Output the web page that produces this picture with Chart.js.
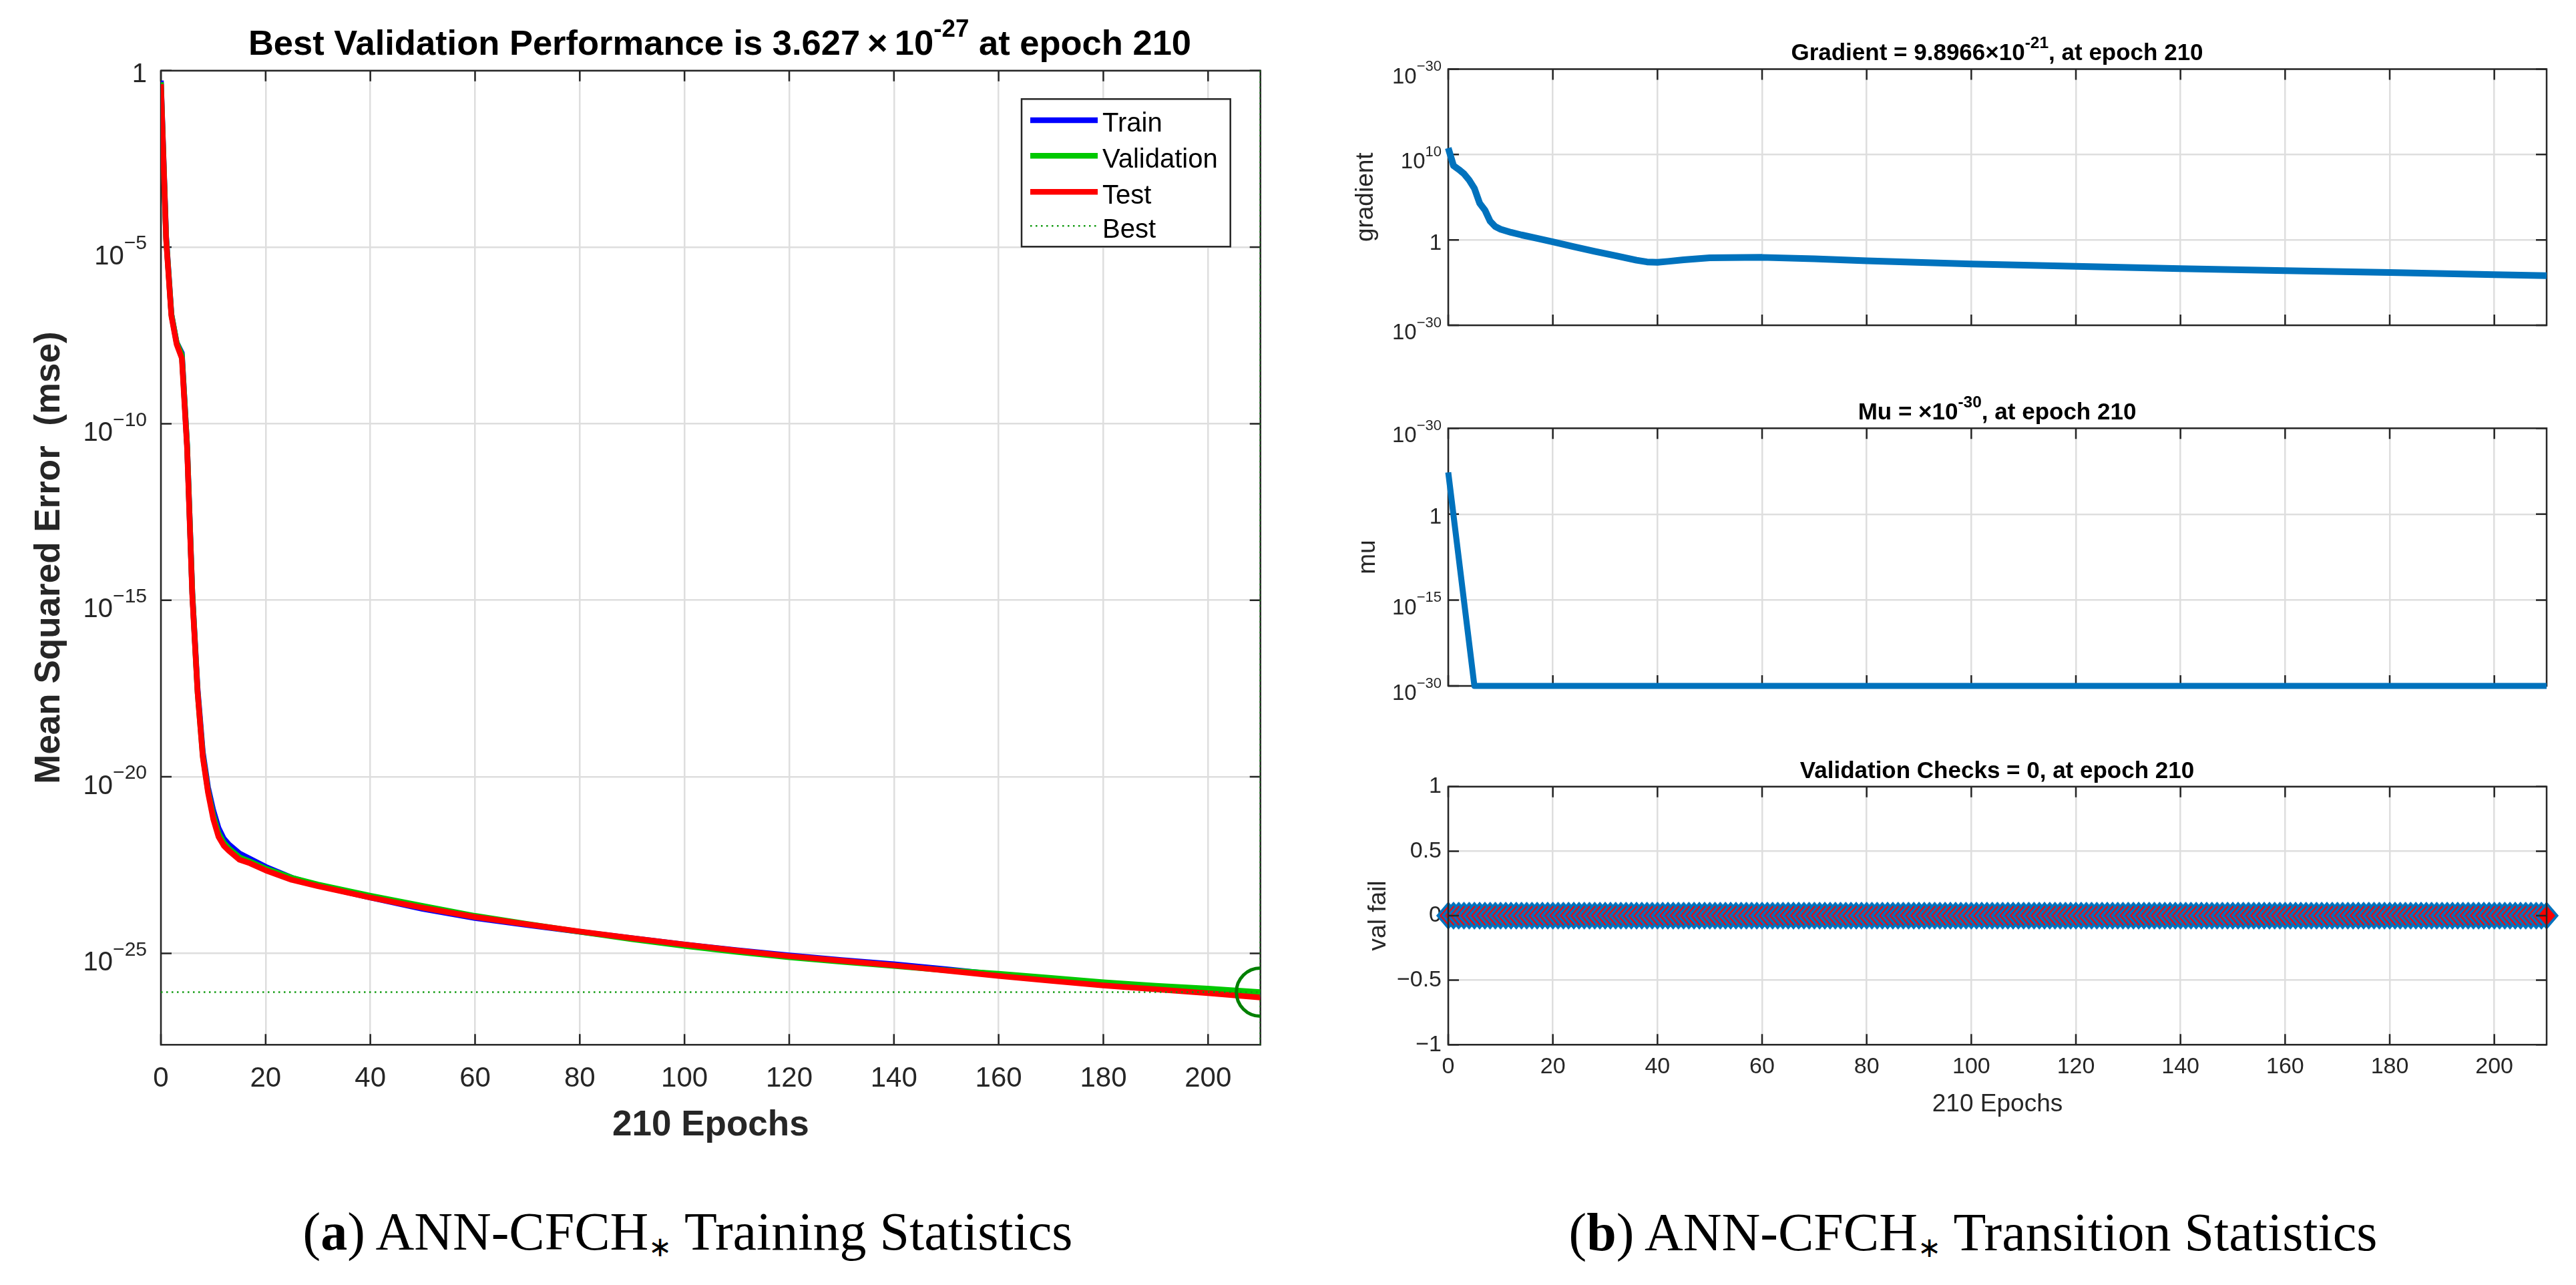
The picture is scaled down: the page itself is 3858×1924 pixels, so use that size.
<!DOCTYPE html>
<html>
<head>
<meta charset="utf-8">
<script src="https://cdn.jsdelivr.net/npm/chart.js@4.4.1/dist/chart.umd.min.js"></script>
<style>
html,body{margin:0;padding:0;background:#fff;width:3858px;height:1924px;overflow:hidden;}
.box{position:absolute;}
.ttl{position:absolute;white-space:nowrap;font-family:'Liberation Sans',Arial,sans-serif;font-weight:bold;color:#000;line-height:1;transform:translateX(-50%);}
.cap{position:absolute;white-space:nowrap;font-family:'Liberation Serif','Times New Roman',serif;font-size:80px;line-height:1;color:#000;transform:translateX(-50%);}
.sp{position:relative;top:-0.74em;font-size:70%;line-height:0;}
.sb{position:relative;top:0.25em;font-size:52%;line-height:0;}
</style>
</head>
<body>
<div class="box" style="left:0;top:0;width:1940px;height:1760px"><canvas id="cA"></canvas></div>
<div class="box" style="left:1960px;top:0;width:1898px;height:560px"><canvas id="cB"></canvas></div>
<div class="box" style="left:1960px;top:560px;width:1898px;height:520px"><canvas id="cC"></canvas></div>
<div class="box" style="left:1960px;top:1080px;width:1898px;height:640px"><canvas id="cD"></canvas></div>

<div class="ttl" style="left:1078px;top:38px;font-size:52.5px">Best Validation Performance is 3.627&#8201;×&#8201;10<span class="sp">-27</span> at epoch 210</div>
<div class="ttl" style="left:2991px;top:60px;font-size:35px">Gradient = 9.8966×10<span class="sp">-21</span>, at epoch 210</div>
<div class="ttl" style="left:2991px;top:598px;font-size:35px">Mu = ×10<span class="sp">-30</span>, at epoch 210</div>
<div class="ttl" style="left:2991px;top:1135px;font-size:35px">Validation Checks = 0, at epoch 210</div>
<div class="cap" style="left:1030px;top:1804px">(<b>a</b>) ANN-CFCH<span class="sb">∗</span> Training Statistics</div>
<div class="cap" style="left:2955px;top:1805px">(<b>b</b>) ANN-CFCH<span class="sb">∗</span> Transition Statistics</div>

<script>
// ---------------- data ----------------
const epochs   = [0,1,2,3,4,5,6,7,8,9,10,11,12,13,15,17,20,25,30,40,50,60,70,80,90,100,110,120,130,140,150,160,170,180,190,200,210];
const trainMse = [0.525,2.0e-5,1.26e-7,2.0e-8,1.0e-8,2.51e-11,1.58e-15,3.16e-18,5.01e-20,5.01e-21,1.12e-21,3.55e-22,1.78e-22,1.2e-22,6.76e-23,4.79e-23,2.82e-23,1.38e-23,8.32e-24,3.8e-24,1.82e-24,1.0e-24,6.31e-25,4.07e-25,2.69e-25,1.78e-25,1.23e-25,8.71e-26,6.46e-26,4.9e-26,3.55e-26,2.51e-26,1.78e-26,1.32e-26,1.0e-26,7.76e-27,6.03e-27];
const valMse   = [0.468,1.78e-5,1.26e-7,2.0e-8,8.91e-9,2.51e-11,1.58e-15,2.51e-18,3.98e-20,3.98e-21,7.94e-22,2.51e-22,1.35e-22,9.33e-23,5.25e-23,3.98e-23,2.51e-23,1.38e-23,8.91e-24,4.27e-24,2.19e-24,1.15e-24,6.76e-25,4.07e-25,2.51e-25,1.62e-25,1.1e-25,7.76e-26,5.75e-26,4.37e-26,3.31e-26,2.63e-26,2.0e-26,1.51e-26,1.2e-26,1.0e-26,7.94e-27];
const testMse  = [0.417,1.58e-5,1.12e-7,1.78e-8,7.08e-9,2.0e-11,1.26e-15,2.51e-18,3.55e-20,3.55e-21,6.31e-22,2.0e-22,1.12e-22,7.94e-23,4.47e-23,3.55e-23,2.24e-23,1.2e-23,7.94e-24,3.8e-24,1.95e-24,1.07e-24,6.61e-25,4.17e-25,2.69e-25,1.78e-25,1.2e-25,8.32e-26,6.17e-26,4.57e-26,3.24e-26,2.29e-26,1.66e-26,1.23e-26,9.55e-27,7.41e-27,5.62e-27];
const bestEpoch = 210;
const bestMse = 7.94e-27;
const mseRange = [2.57e-28, 1];
const mseTicks = [1, 1e-5, 1e-10, 1e-15, 1e-20, 1e-25];
const mseTickLabels = ['1', '10^−5', '10^−10', '10^−15', '10^−20', '10^−25'];
const legendLabels = ['Train', 'Validation', 'Test', 'Best'];

const gradEpochs = [0,1,2,3,4,5,6,7,8,9,10,12,14,17,20,24,28,32,36,38,40,42,45,50,60,70,80,100,120,140,160,180,200,210];
const gradValues = [5.75e10,5.01e8,1.78e8,5.62e7,1.0e7,1.07e6,2.0e4,3.16e3,158,35.5,17.8,7.59,3.8,1.51,0.575,0.158,0.0447,0.0141,4.17e-3,2.63e-3,2.4e-3,3.02e-3,4.68e-3,7.94e-3,8.91e-3,6.03e-3,3.55e-3,1.48e-3,7.94e-4,4.27e-4,2.51e-4,1.48e-4,8.51e-5,6.31e-5];
const gradRange = [1e-10, 1e20];
const gradTicks = [1e20, 1e10, 1, 1e-10];
const gradTickLabels = ['10^−30', '10^10', '1', '10^−30'];

const muEpochs = [0, 5, 210];
const muValues = [2e7, 1e-30, 1e-30];
const muRange = [1e-30, 1e15];
const muTicks = [1e15, 1, 1e-15, 1e-30];
const muTickLabels = ['10^−30', '1', '10^−15', '10^−30'];

const valFail = [
0,0,0,0,0,0,0,0,0,0,0,0,0,0,0,0,0,0,0,0,
0,0,0,0,0,0,0,0,0,0,0,0,0,0,0,0,0,0,0,0,
0,0,0,0,0,0,0,0,0,0,0,0,0,0,0,0,0,0,0,0,
0,0,0,0,0,0,0,0,0,0,0,0,0,0,0,0,0,0,0,0,
0,0,0,0,0,0,0,0,0,0,0,0,0,0,0,0,0,0,0,0,
0,0,0,0,0,0,0,0,0,0,0,0,0,0,0,0,0,0,0,0,
0,0,0,0,0,0,0,0,0,0,0,0,0,0,0,0,0,0,0,0,
0,0,0,0,0,0,0,0,0,0,0,0,0,0,0,0,0,0,0,0,
0,0,0,0,0,0,0,0,0,0,0,0,0,0,0,0,0,0,0,0,
0,0,0,0,0,0,0,0,0,0,0,0,0,0,0,0,0,0,0,0,
0,0,0,0,0,0,0,0,0,0,0];
const valTicks = [-1, -0.5, 0, 0.5, 1];
const valTickLabels = ['−1', '−0.5', '0', '0.5', '1'];
const epochMax = 210;
const epochStep = 20;

// ---------------- helpers ----------------
const FONT = "'Liberation Sans', Arial, sans-serif";
Chart.defaults.font.family = FONT;
Chart.defaults.color = '#262626';
const INK = '#262626';
const GRID = '#dedede';

const pts = (xs, ys) => xs.map((x, i) => ({x: x, y: ys[i]}));

function drawFrame(chart) {
  const ctx = chart.ctx, a = chart.chartArea, xs = chart.scales.x, ys = chart.scales.y;
  const L = 16;
  ctx.save();
  ctx.strokeStyle = INK; ctx.lineWidth = 2.5; ctx.setLineDash([]);
  ctx.beginPath();
  xs.ticks.forEach(t => {
    const p = xs.getPixelForValue(t.value);
    ctx.moveTo(p, a.bottom); ctx.lineTo(p, a.bottom - L);
    ctx.moveTo(p, a.top); ctx.lineTo(p, a.top + L);
  });
  ys.ticks.forEach(t => {
    const p = ys.getPixelForValue(t.value);
    ctx.moveTo(a.left, p); ctx.lineTo(a.left + L, p);
    ctx.moveTo(a.right, p); ctx.lineTo(a.right - L, p);
  });
  ctx.stroke();
  ctx.strokeRect(a.left, a.top, a.right - a.left, a.bottom - a.top);
  ctx.restore();
}

function drawLogLabels(chart, o) {
  const ctx = chart.ctx, a = chart.chartArea, ys = chart.scales.y;
  ctx.save();
  ctx.fillStyle = INK; ctx.textBaseline = 'alphabetic'; ctx.textAlign = 'left';
  o.values.forEach((v, i) => {
    const p = ys.getPixelForValue(v);
    const parts = o.labels[i].split('^');
    const right = a.left - o.gap;
    ctx.font = o.base + 'px ' + FONT;
    const bw = ctx.measureText(parts[0]).width;
    if (parts.length === 1) { ctx.fillText(parts[0], right - bw, p + 0.44 * o.base); return; }
    ctx.font = o.exp + 'px ' + FONT;
    const ew = ctx.measureText(parts[1]).width;
    const bl = p + 0.64 * o.base;
    ctx.fillText(parts[1], right - ew, bl - 0.56 * o.base);
    ctx.font = o.base + 'px ' + FONT;
    ctx.fillText(parts[0], right - ew - bw, bl);
  });
  ctx.restore();
}

function drawLegend(chart, o) {
  const ctx = chart.ctx;
  ctx.save();
  ctx.fillStyle = '#fff'; ctx.fillRect(o.x, o.y, o.w, o.h);
  ctx.strokeStyle = INK; ctx.lineWidth = 2.5; ctx.strokeRect(o.x, o.y, o.w, o.h);
  o.labels.forEach((lab, i) => {
    const ds = chart.data.datasets.find(d => d.label === lab);
    const cy = o.rows[i];
    ctx.beginPath();
    ctx.strokeStyle = ds.borderColor; ctx.lineWidth = ds.borderWidth;
    ctx.setLineDash(ds.borderDash || []);
    ctx.moveTo(o.lineX0, cy); ctx.lineTo(o.lineX1, cy); ctx.stroke();
    ctx.setLineDash([]);
    ctx.fillStyle = '#000'; ctx.font = o.font + 'px ' + FONT; ctx.textBaseline = 'alphabetic'; ctx.textAlign = 'left';
    ctx.fillText(lab, o.textX, cy + 0.358 * o.font + 3);
  });
  ctx.restore();
}

const framePlugin = {
  id: 'frame',
  beforeDatasetsDraw(chart, args, o) { if (!o.onTop) drawFrame(chart); },
  afterDatasetsDraw(chart, args, o) { if (o.onTop) drawFrame(chart); },
  afterDraw(chart, args, o) {
    if (o.logLabels) drawLogLabels(chart, o.logLabels);
    if (o.legend) drawLegend(chart, o.legend);
  }
};

function epochAxis(opts) {
  return Object.assign({
    type: 'linear', min: 0, max: epochMax,
    ticks: {stepSize: epochStep, includeBounds: false, display: false, maxRotation: 0, autoSkip: false},
    grid: {color: GRID, lineWidth: 2.5, drawTicks: false},
    border: {display: false}
  }, opts);
}

const base = {
  animation: false, responsive: true, maintainAspectRatio: false, events: [],
};

// ---------------- chart A: performance ----------------
new Chart(document.getElementById('cA'), {
  type: 'scatter',
  data: {
    datasets: [
      {label: 'Train', data: pts(epochs, trainMse), showLine: true, borderColor: '#0000ff', borderWidth: 8.5, pointRadius: 0, borderJoinStyle: 'round', order: 3},
      {label: 'Validation', data: pts(epochs, valMse), showLine: true, borderColor: '#00c800', borderWidth: 8.5, pointRadius: 0, borderJoinStyle: 'round', order: 2},
      {label: 'Test', data: pts(epochs, testMse), showLine: true, borderColor: '#ff0000', borderWidth: 8.5, pointRadius: 0, borderJoinStyle: 'round', order: 1},
      {label: 'Best', data: [{x: 0, y: bestMse}, {x: epochMax, y: bestMse}], showLine: true, borderColor: '#109a10', borderWidth: 2.5, borderDash: [2.5, 5.5], pointRadius: 0, order: 0},
      {label: 'BestEpoch', data: [{x: bestEpoch, y: mseRange[1]}, {x: bestEpoch, y: mseRange[0]}], showLine: true, borderColor: '#109a10', borderWidth: 2.5, borderDash: [2.5, 5.5], pointRadius: 0, order: 0},
      {label: 'BestPoint', data: [{x: bestEpoch, y: bestMse}], showLine: false, pointRadius: 36, pointBorderWidth: 5, pointBorderColor: '#008000', pointBackgroundColor: 'rgba(0,0,0,0)', clip: 0, order: -1}
    ]
  },
  options: Object.assign({}, base, {
    layout: {padding: {left: 0, top: 105.8, right: 52.3, bottom: 0}},
    scales: {
      x: epochAxis({
        ticks: {stepSize: epochStep, includeBounds: false, display: true, maxRotation: 0, autoSkip: false, font: {size: 42}, color: INK, padding: 25.5},
        title: {display: true, text: '210 Epochs', font: {size: 53, weight: 'bold'}, color: INK, padding: {top: 0, bottom: 43.2}},
        afterFit(s) { s.height = 195.7; }
      }),
      y: {
        type: 'logarithmic', min: mseRange[0], max: mseRange[1],
        afterBuildTicks(s) { s.ticks = mseTicks.map(v => ({value: v})); },
        ticks: {display: false},
        grid: {color: GRID, lineWidth: 2.5, drawTicks: false},
        border: {display: false},
        title: {display: true, text: 'Mean Squared Error  (mse)', font: {size: 53, weight: 'bold'}, color: INK, padding: {top: 42.3, bottom: 0}},
        afterFit(s) { s.width = 241; }
      }
    },
    plugins: {
      legend: {display: false}, tooltip: {enabled: false},
      frame: {
        onTop: false,
        logLabels: {values: mseTicks, labels: mseTickLabels, base: 40, exp: 30, gap: 21},
        legend: {x: 1530, y: 148.3, w: 312.7, h: 221, lineX0: 1543, lineX1: 1644, textX: 1651, font: 40, rows: [180, 233.3, 287.3, 338.3], labels: legendLabels}
      }
    }
  }),
  plugins: [framePlugin]
});

// ---------------- chart B: gradient ----------------
new Chart(document.getElementById('cB'), {
  type: 'scatter',
  data: {datasets: [
    {label: 'gradient', data: pts(gradEpochs, gradValues), showLine: true, borderColor: '#0072bd', borderWidth: 10, pointRadius: 0, borderJoinStyle: 'round', clip: false}
  ]},
  options: Object.assign({}, base, {
    layout: {padding: {left: 0, top: 103.5, right: 44, bottom: 0}},
    scales: {
      x: epochAxis({afterFit(s) { s.height = 73; }}),
      y: {
        type: 'logarithmic', min: gradRange[0], max: gradRange[1],
        afterBuildTicks(s) { s.ticks = gradTicks.map(v => ({value: v})); },
        ticks: {display: false},
        grid: {color: GRID, lineWidth: 2.5, drawTicks: false},
        border: {display: false},
        title: {display: true, text: 'gradient', font: {size: 37}, color: INK, padding: {top: 63.3, bottom: 0}},
        afterFit(s) { s.width = 209; }
      }
    },
    plugins: {
      legend: {display: false}, tooltip: {enabled: false},
      frame: {onTop: false, logLabels: {values: gradTicks, labels: gradTickLabels, base: 33, exp: 22, gap: 10}}
    }
  }),
  plugins: [framePlugin]
});

// ---------------- chart C: mu ----------------
new Chart(document.getElementById('cC'), {
  type: 'scatter',
  data: {datasets: [
    {label: 'mu', data: pts(muEpochs, muValues), showLine: true, borderColor: '#0072bd', borderWidth: 9, pointRadius: 0, borderJoinStyle: 'round', clip: false}
  ]},
  options: Object.assign({}, base, {
    layout: {padding: {left: 0, top: 81.2, right: 44, bottom: 0}},
    scales: {
      x: epochAxis({afterFit(s) { s.height = 53; }}),
      y: {
        type: 'logarithmic', min: muRange[0], max: muRange[1],
        afterBuildTicks(s) { s.ticks = muTicks.map(v => ({value: v})); },
        ticks: {display: false},
        grid: {color: GRID, lineWidth: 2.5, drawTicks: false},
        border: {display: false},
        title: {display: true, text: 'mu', font: {size: 37}, color: INK, padding: {top: 66.8, bottom: 0}},
        afterFit(s) { s.width = 209; }
      }
    },
    plugins: {
      legend: {display: false}, tooltip: {enabled: false},
      frame: {onTop: false, logLabels: {values: muTicks, labels: muTickLabels, base: 33, exp: 22, gap: 10}}
    }
  }),
  plugins: [framePlugin]
});

// ---------------- chart D: validation checks ----------------
function diamondImage() {
  const c = document.createElement('canvas');
  c.width = 40; c.height = 46;
  const g = c.getContext('2d');
  g.beginPath();
  g.moveTo(20, 5); g.lineTo(35.5, 23); g.lineTo(20, 41); g.lineTo(4.5, 23); g.closePath();
  g.fillStyle = '#ff0000'; g.fill();
  g.strokeStyle = '#0072bd'; g.lineWidth = 4; g.lineJoin = 'miter'; g.stroke();
  return c;
}
const diamond = diamondImage();

new Chart(document.getElementById('cD'), {
  type: 'scatter',
  data: {datasets: [
    {label: 'val fail', data: valFail.map((v, i) => ({x: i, y: v})), showLine: false, pointStyle: diamond, pointRadius: 20, clip: false}
  ]},
  options: Object.assign({}, base, {
    layout: {padding: {left: 0, top: 97.8, right: 44, bottom: 0}},
    scales: {
      x: epochAxis({
        ticks: {stepSize: epochStep, includeBounds: false, display: true, maxRotation: 0, autoSkip: false, font: {size: 34}, color: INK, padding: 13.4},
        title: {display: true, text: '210 Epochs', font: {size: 37}, color: INK, padding: {top: 0, bottom: 44.5}},
        afterFit(s) { s.height = 155.8; }
      }),
      y: {
        type: 'linear', min: -1, max: 1,
        afterBuildTicks(s) { s.ticks = valTicks.map(v => ({value: v})); },
        ticks: {font: {size: 34}, color: INK, padding: 10, callback: (v) => valTickLabels[valTicks.indexOf(v)]},
        grid: {color: GRID, lineWidth: 2.5, drawTicks: false},
        border: {display: false},
        title: {display: true, text: 'val fail', font: {size: 37}, color: INK, padding: {top: 82.8, bottom: 0}},
        afterFit(s) { s.width = 209; }
      }
    },
    plugins: {
      legend: {display: false}, tooltip: {enabled: false},
      frame: {onTop: true}
    }
  }),
  plugins: [framePlugin]
});
</script>
</body>
</html>
